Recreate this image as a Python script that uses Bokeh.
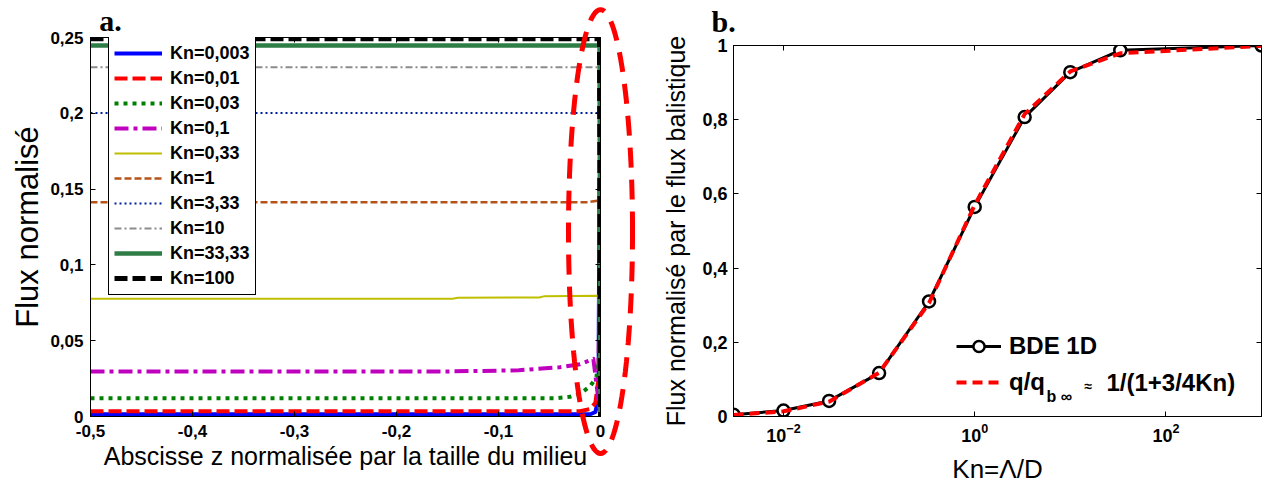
import numpy as np
from bokeh.plotting import figure
from bokeh.models import (Range1d, FixedTicker, LinearAxis, LogAxis, Legend, LegendItem,
                          Label, PolyAnnotation, LogTickFormatter, GridBox)
from bokeh.embed import file_html
from bokeh.resources import INLINE

# ---------------- data: panel a (flux normalisé vs z) ----------------
kn_labels = ["Kn=0,003", "Kn=0,01", "Kn=0,03", "Kn=0,1", "Kn=0,33",
             "Kn=1", "Kn=3,33", "Kn=10", "Kn=33,33", "Kn=100"]

z_kn0003 = [-0.5, -0.01, -0.005, -0.002, -0.001, 0.0]
f_kn0003 = [0.0015, 0.0015, 0.003, 0.012, 0.157, 0.0]
z_kn001 = [-0.5, -0.02, -0.01, -0.005, -0.002, -0.001, 0.0]
f_kn001 = [0.0035, 0.0035, 0.005, 0.009, 0.025, 0.08, 0.0]
z_kn003 = [-0.5, -0.045, -0.03, -0.02, -0.01, -0.004, -0.001, 0.0]
f_kn003 = [0.012, 0.012, 0.013, 0.015, 0.02, 0.026, 0.04, 0.0]
z_kn01 = [-0.5, -0.15, -0.08, -0.04, -0.02, -0.007, 0.0]
f_kn01 = [0.0297, 0.0297, 0.0305, 0.0325, 0.0345, 0.038, 0.0]
z_kn033 = [-0.5, -0.145, -0.14, -0.06, -0.055, -0.002, 0.0]
f_kn033 = [0.0776, 0.0777, 0.0783, 0.0785, 0.0794, 0.0797, 0.0]
z_kn1 = [-0.5, -0.012, -0.002, 0.0]
f_kn1 = [0.1414, 0.1414, 0.1425, 0.0]
z_kn333 = [-0.5, -0.001, 0.0]
f_kn333 = [0.2002, 0.2002, 0.0]
z_kn10 = [-0.5, -0.001, 0.0]
f_kn10 = [0.2304, 0.2304, 0.0]
z_kn3333 = [-0.5, -0.001, 0.0]
f_kn3333 = [0.2447, 0.2447, 0.0]
z_kn100 = [-0.5, -0.001, 0.0]
f_kn100 = [0.2491, 0.2491, 0.0]

x_ticks_a = [-0.5, -0.4, -0.3, -0.2, -0.1, 0.0]
x_tick_labels_a = ["-0,5", "-0,4", "-0,3", "-0,2", "-0,1", "0"]
y_ticks_a = [0.0, 0.05, 0.1, 0.15, 0.2, 0.25]
y_tick_labels_a = ["0", "0,05", "0,1", "0,15", "0,2", "0,25"]

# ---------------- data: panel b ----------------
kn_values = [0.003, 0.01, 0.03, 0.1, 0.333, 1.0, 3.33, 10.0, 33.33, 1000.0]
flux_bde_1d = [0.005, 0.016, 0.042, 0.117, 0.31, 0.565, 0.807, 0.928, 0.987, 1.0]
flux_approx = [0.004, 0.014, 0.040, 0.118, 0.306, 0.570, 0.815, 0.930, 0.979, 0.999]

x_ticks_b = [0.01, 1.0, 100.0]
y_ticks_b = [0.0, 0.2, 0.4, 0.6, 0.8, 1.0]
y_tick_labels_b = ["0", "0,2", "0,4", "0,6", "0,8", "1"]

SANS = "Liberation Sans"
SERIF = "Liberation Serif"

# ---------------- layout constants (pixels) ----------------
H = 486
A_W, A_L, A_R, A_T, A_FH = 645, 90, 45, 37, 379
A_B = H - A_T - A_FH
B_W, B_L, B_R, B_T, B_FH = 619, 88, 3, 45, 372
B_B = H - B_T - B_FH


def style_axis(ax, size):
    ax.major_tick_in = 5
    ax.major_tick_out = 0
    ax.minor_tick_line_color = None
    ax.axis_line_color = "black"
    ax.major_tick_line_color = "black"
    ax.major_label_text_font = SANS
    ax.major_label_text_font_style = "bold"
    ax.major_label_text_font_size = size
    ax.major_label_text_color = "black"
    ax.axis_label_text_font = SANS
    ax.axis_label_text_font_style = "normal"
    ax.axis_label_text_color = "black"


def tick_only_axis(cls, ticks):
    ax = cls(ticker=FixedTicker(ticks=ticks))
    style_axis(ax, "0px")
    ax.major_label_standoff = 0
    ax.major_label_text_alpha = 0
    return ax


def overlay(width, x_range, y_range, x_type="linear"):
    ov = figure(width=width, height=H, x_range=x_range, y_range=y_range,
                x_axis_type=x_type, output_backend="svg", toolbar_location=None,
                title=None, x_axis_location=None, y_axis_location=None,
                min_border=0, min_border_left=0, min_border_right=0,
                min_border_top=0, min_border_bottom=0, frame_align=False)
    ov.grid.visible = False
    ov.outline_line_color = None
    ov.background_fill_alpha = 0
    ov.border_fill_alpha = 0
    return ov


# ---------------- panel a ----------------
pa = figure(width=A_W, height=H,
            x_range=Range1d(-0.5, 0.0), y_range=Range1d(0.0, 0.25),
            output_backend="svg", toolbar_location=None, title=None,
            min_border_left=A_L, min_border_right=A_R, min_border_top=A_T,
            min_border_bottom=A_B, frame_align=False)
pa.grid.visible = False
pa.outline_line_color = "black"
pa.outline_line_alpha = 1.0

styles = [
    dict(color="#0000ff", line_width=4, line_dash="solid"),
    dict(color="#ff0000", line_width=4, line_dash="13 5"),
    dict(color="#008000", line_width=4, line_dash="4 5"),
    dict(color="#bf00bf", line_width=4, line_dash="14 5 4 5"),
    dict(color="#bfbf00", line_width=2, line_dash="solid"),
    dict(color="#b5541a", line_width=2.5, line_dash="7 3"),
    dict(color="#00209a", line_width=2, line_dash="2 3"),
    dict(color="#8c8c8c", line_width=2, line_dash="7 3 2 3"),
    dict(color="#2e7d46", line_width=4.5, line_dash="solid"),
    dict(color="#000000", line_width=5, line_dash="13 5"),
]
series_a = [(z_kn0003, f_kn0003), (z_kn001, f_kn001), (z_kn003, f_kn003), (z_kn01, f_kn01),
            (z_kn033, f_kn033), (z_kn1, f_kn1), (z_kn333, f_kn333), (z_kn10, f_kn10),
            (z_kn3333, f_kn3333), (z_kn100, f_kn100)]
items_a = []
for (zz, ff), st, lab in zip(series_a, styles, kn_labels):
    r = pa.line(zz, ff, line_color=st["color"], line_width=st["line_width"],
                line_dash=st["line_dash"], line_join="round")
    items_a.append(LegendItem(label=lab, renderers=[r]))

xa = pa.xaxis[0]
style_axis(xa, "17px")
xa.ticker = FixedTicker(ticks=x_ticks_a)
xa.major_label_overrides = dict(zip(x_ticks_a, x_tick_labels_a))
xa.major_label_standoff = 8
xa.axis_label = "Abscisse z normalisée par la taille du milieu"
xa.axis_label_text_font_size = "25px"
xa.axis_label_standoff = 2

ya = pa.yaxis[0]
style_axis(ya, "17px")
ya.ticker = FixedTicker(ticks=y_ticks_a)
ya.major_label_overrides = dict(zip(y_ticks_a, y_tick_labels_a))
ya.major_label_standoff = 7
ya.axis_label = "Flux normalisé"
ya.axis_label_text_font_size = "31px"
ya.axis_label_standoff = 2

pa.add_layout(tick_only_axis(LinearAxis, y_ticks_a), "right")
pa.add_layout(tick_only_axis(LinearAxis, x_ticks_a), "above")

leg_a = Legend(items=items_a, location=(18, 121), padding=5, spacing=3, margin=0,
               glyph_width=48, glyph_height=22, label_height=22, label_standoff=8,
               border_line_color="black", border_line_width=1, border_line_alpha=1,
               background_fill_color="white", background_fill_alpha=1,
               label_text_font=SANS, label_text_font_style="bold",
               label_text_font_size="18px", label_text_color="black")
pa.add_layout(leg_a)

# overlay spanning the whole canvas of panel a (same data scale), for marks outside the frame
sx_a = 0.5 / (A_W - A_L - A_R)
sy_a = 0.25 / A_FH
ova = overlay(A_W, Range1d(-0.5 - A_L * sx_a, 0.0 + A_R * sx_a),
              Range1d(0.0 - A_B * sy_a, 0.25 + A_T * sy_a))
ell_cx, ell_cy, ell_a, ell_b = 0.0, 0.122, 0.0314, 0.1464
theta = np.linspace(0, 2 * np.pi, 121)
ova.add_layout(PolyAnnotation(xs=list(ell_cx + ell_a * np.cos(theta)),
                              ys=list(ell_cy + ell_b * np.sin(theta)),
                              xs_units="data", ys_units="data",
                              fill_alpha=0, line_color="#ff0000", line_alpha=1.0,
                              line_width=5, line_dash="20 12"))
ova.add_layout(Label(x=-0.4915, y=0.2615, text="a.", text_font=SERIF,
                     text_font_style="bold", text_font_size="30px",
                     text_baseline="alphabetic", text_color="black"))

# ---------------- panel b ----------------
pb = figure(width=B_W, height=H, x_axis_type="log",
            x_range=Range1d(0.003, 1000.0), y_range=Range1d(0.0, 1.0),
            output_backend="svg", toolbar_location=None, title=None,
            min_border_left=B_L, min_border_right=B_R, min_border_top=B_T,
            min_border_bottom=B_B, frame_align=False)
pb.grid.visible = False
pb.outline_line_color = "black"
pb.outline_line_alpha = 1.0

lb = pb.line(kn_values, flux_bde_1d, line_color="black", line_width=3)
sb = pb.scatter(kn_values, flux_bde_1d, marker="circle", size=12, fill_color="white",
                line_color="black", line_width=2.5)
lr = pb.line(kn_values, flux_approx, line_color="#ff0000", line_width=4, line_dash="10 6")

xb = pb.xaxis[0]
style_axis(xb, "18px")
xb.ticker = FixedTicker(ticks=x_ticks_b)
xb.formatter = LogTickFormatter()
xb.major_label_standoff = 6
xb.axis_label = "Kn=Λ/D"
xb.axis_label_text_font_size = "26px"
xb.axis_label_standoff = 9

yb = pb.yaxis[0]
style_axis(yb, "18px")
yb.ticker = FixedTicker(ticks=y_ticks_b)
yb.major_label_overrides = dict(zip(y_ticks_b, y_tick_labels_b))
yb.major_label_standoff = 6
yb.axis_label = "Flux normalisé par le flux balistique"
yb.axis_label_text_font_size = "25px"
yb.axis_label_standoff = 9

pb.add_layout(tick_only_axis(LinearAxis, y_ticks_b), "right")
pb.add_layout(tick_only_axis(LogAxis, x_ticks_b), "above")

leg_b = Legend(items=[LegendItem(label="BDE 1D", renderers=[lb, sb]),
                      LegendItem(label="q/q", renderers=[lr])],
               location=(223, 20), padding=0, margin=0, spacing=8,
               glyph_width=45, glyph_height=28, label_height=28, label_standoff=8,
               border_line_alpha=0, background_fill_alpha=0,
               label_text_font=SANS, label_text_font_style="bold",
               label_text_font_size="24px", label_text_color="black")
pb.add_layout(leg_b)

pb.add_layout(Label(x=5.64, y=0.0538, text="b ∞", text_font=SANS, text_font_style="bold",
                    text_font_size="16px", text_baseline="middle", text_color="black"))
pb.add_layout(Label(x=14.1, y=0.083, text="≈", text_font=SANS, text_font_style="bold",
                    text_font_size="14px", text_baseline="middle", text_color="black"))
pb.add_layout(Label(x=23.9, y=0.0914, text="1/(1+3/4Kn)", text_font=SANS,
                    text_font_style="bold", text_font_size="24px", text_baseline="middle",
                    text_color="black"))

# overlay for panel b (same log scale over the whole canvas)
dec_b = (B_W - B_L - B_R) / np.log10(1000.0 / 0.003)
lx0 = np.log10(0.003) - B_L / dec_b
lx1 = np.log10(1000.0) + B_R / dec_b
ovb = overlay(B_W, Range1d(10 ** lx0, 10 ** lx1),
              Range1d(0.0 - B_B / B_FH, 1.0 + B_T / B_FH), x_type="log")
ovb.add_layout(Label(x=0.001766, y=1.064, text="b.", text_font=SERIF,
                     text_font_style="bold", text_font_size="30px",
                     text_baseline="alphabetic", text_color="black"))

layout = GridBox(children=[(pa, 0, 0), (ova, 0, 0), (pb, 0, 1), (ovb, 0, 1)])
open("out.html", "w").write(file_html(layout, INLINE))
